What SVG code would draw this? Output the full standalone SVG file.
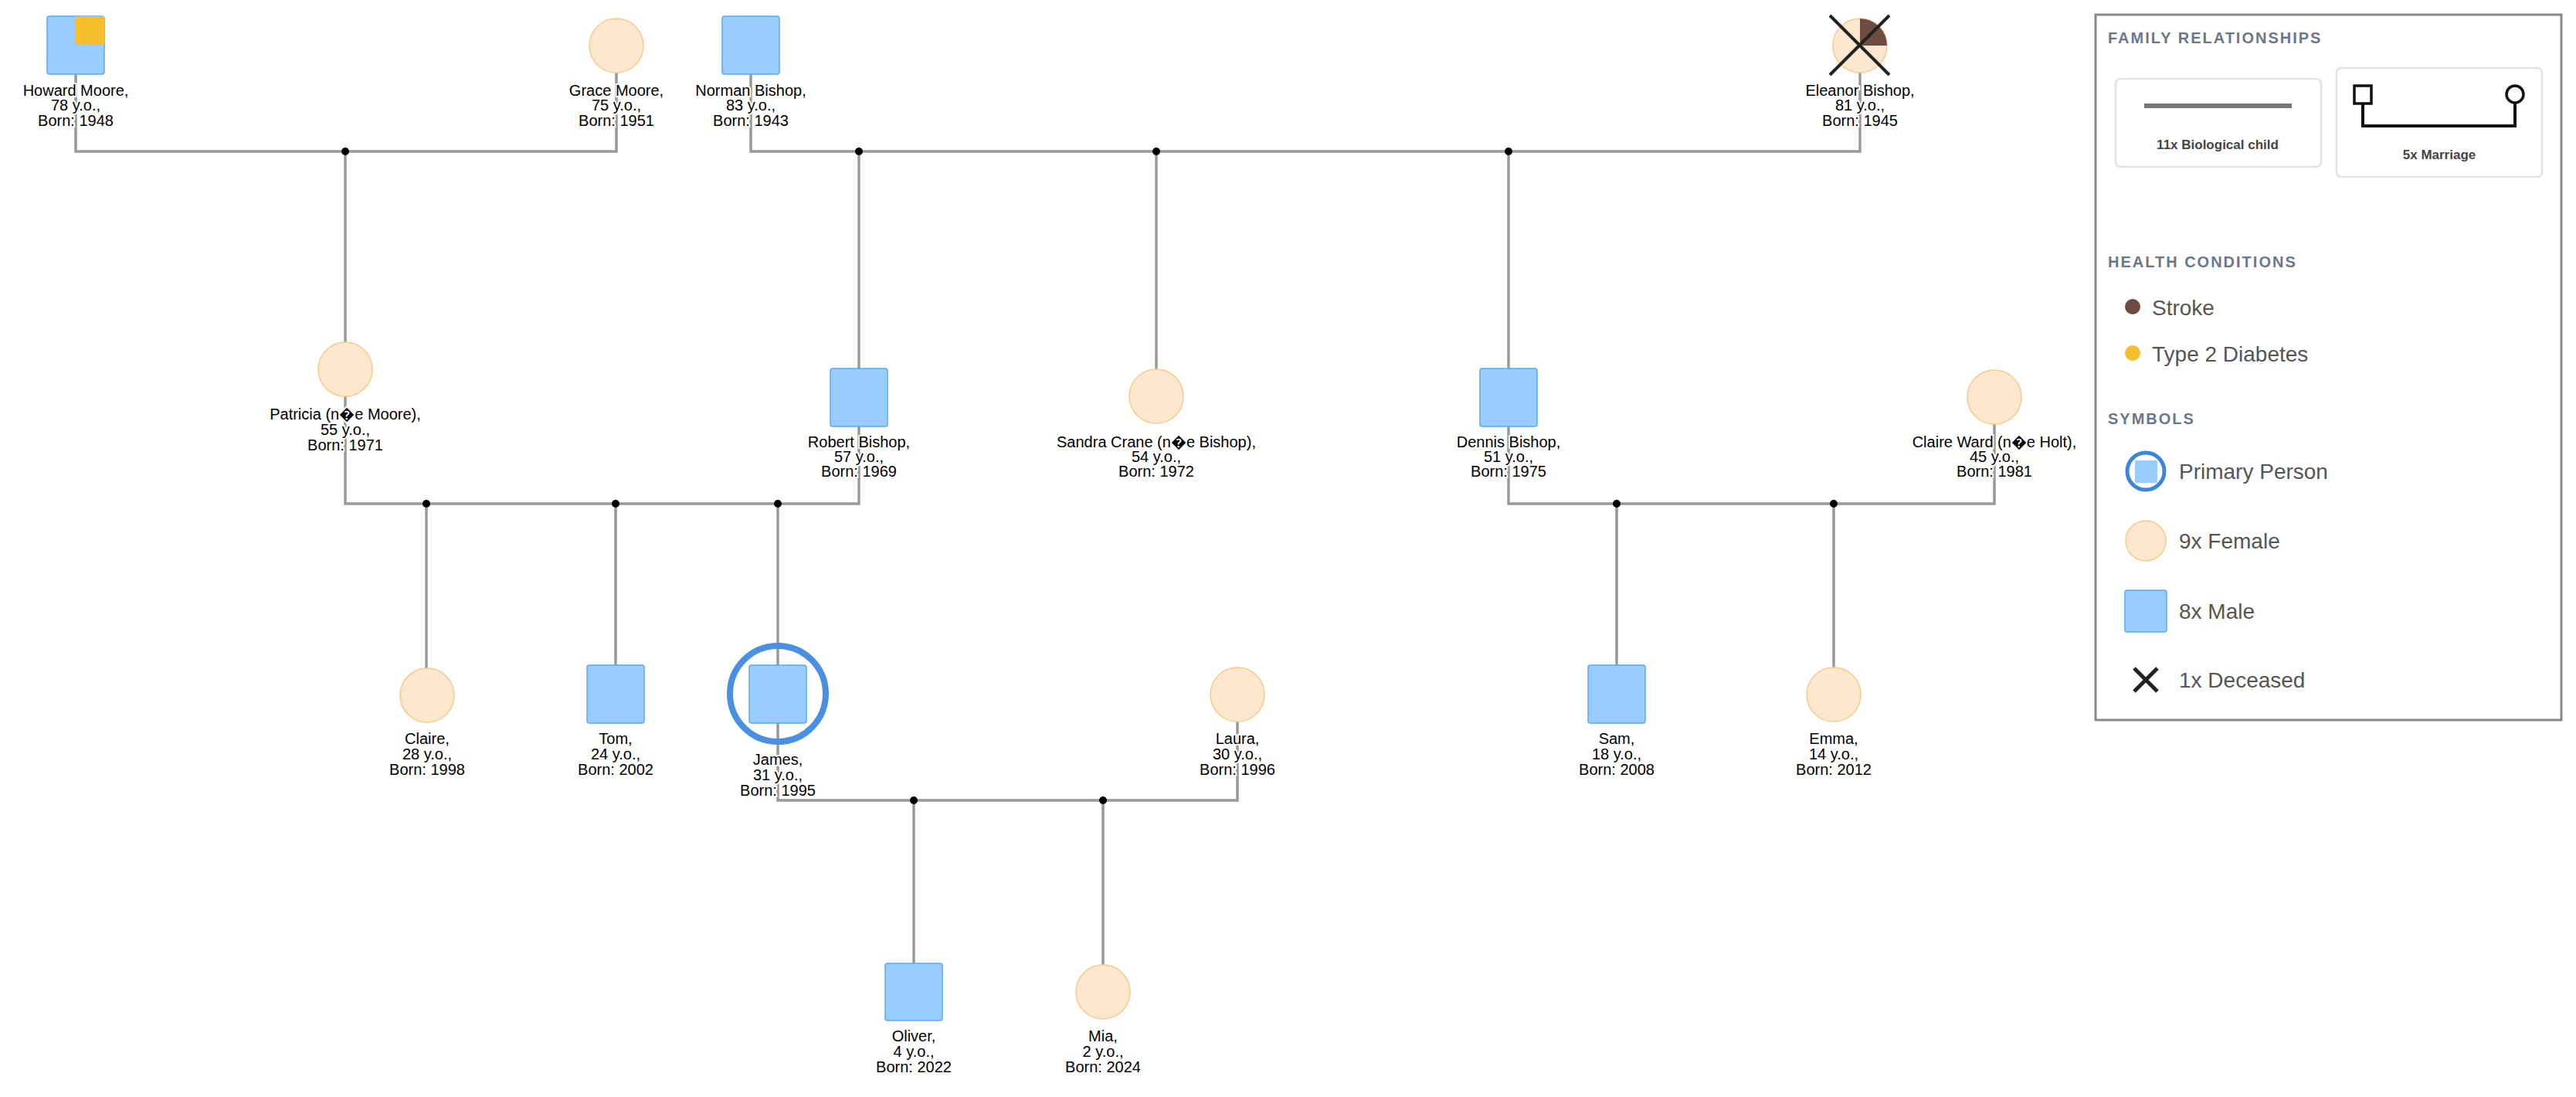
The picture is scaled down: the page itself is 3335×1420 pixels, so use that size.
<svg xmlns="http://www.w3.org/2000/svg" width="3335" height="1420" viewBox="0 0 3335 1420">
<style>
.m{fill:#99ccff;stroke:#5aa9f0;stroke-width:1.5}
.f{fill:#fde8cf;stroke:#f9c98a;stroke-width:1.5}
.lb{font-family:"Liberation Sans",Arial,sans-serif;font-size:20px;fill:#000;text-anchor:middle;stroke:#fff;stroke-width:4;paint-order:stroke}
.ln{fill:none;stroke:#999;stroke-width:3.5}
.dot{fill:#000}
.hd{font-family:"Liberation Sans",Arial,sans-serif;font-size:20px;font-weight:bold;fill:#6b7789;letter-spacing:2px}
.lt{font-family:"Liberation Sans",Arial,sans-serif;font-size:28px;fill:#555}
.bx{fill:#fff;stroke:#e2e2e2;stroke-width:2.5}
.bl{font-family:"Liberation Sans",Arial,sans-serif;font-size:17px;font-weight:bold;fill:#444;text-anchor:middle}
</style>
<rect width="3335" height="1420" fill="#fff"/>
<g id="connectors">
<path class="ln" d="M98 96V196H798V94"/>
<path class="ln" d="M972 96V196H2408V94"/>
<path class="ln" d="M447 513V652H1112V552"/>
<path class="ln" d="M1953 552V652H2582V549"/>
<path class="ln" d="M1007 936V1036H1602V934"/>
<path class="ln" d="M447 196V443M1112 196V477M1497 196V478M1953 196V477"/>
<path class="ln" d="M552 652V865M797 652V861M1007 652V861M2093 652V861M2374 652V864"/>
<path class="ln" d="M1183 1036V1247M1428 1036V1249"/>
<circle class="dot" cx="447" cy="196" r="5"/>
<circle class="dot" cx="1112" cy="196" r="5"/>
<circle class="dot" cx="1497" cy="196" r="5"/>
<circle class="dot" cx="1953" cy="196" r="5"/>
<circle class="dot" cx="552" cy="652" r="5"/>
<circle class="dot" cx="797" cy="652" r="5"/>
<circle class="dot" cx="1007" cy="652" r="5"/>
<circle class="dot" cx="2093" cy="652" r="5"/>
<circle class="dot" cx="2374" cy="652" r="5"/>
<circle class="dot" cx="1183" cy="1036" r="5"/>
<circle class="dot" cx="1428" cy="1036" r="5"/>
</g>
<g id="howard"><rect class="m" x="61" y="21" width="74" height="75" rx="3"/><rect x="97" y="21" width="38" height="37" fill="#f6be2a"/>
<text class="lb" x="98"><tspan x="98" y="124">Howard Moore,</tspan><tspan x="98" y="143">78 y.o.,</tspan><tspan x="98" y="163">Born: 1948</tspan></text></g>
<g id="grace"><circle class="f" cx="798" cy="59" r="35"/>
<text class="lb"><tspan x="798" y="124">Grace Moore,</tspan><tspan x="798" y="143">75 y.o.,</tspan><tspan x="798" y="163">Born: 1951</tspan></text></g>
<g id="norman"><rect class="m" x="935" y="21" width="74" height="75" rx="3"/>
<text class="lb"><tspan x="972" y="124">Norman Bishop,</tspan><tspan x="972" y="143">83 y.o.,</tspan><tspan x="972" y="163">Born: 1943</tspan></text></g>
<g id="eleanor"><circle class="f" cx="2408" cy="59" r="35"/><path d="M2408 59V24A35 35 0 0 1 2443 59Z" fill="#6d4c41"/>
<path d="M2369 20L2446 97M2446 20L2369 97" stroke="#222" stroke-width="4"/>
<text class="lb"><tspan x="2408" y="124">Eleanor Bishop,</tspan><tspan x="2408" y="143">81 y.o.,</tspan><tspan x="2408" y="163">Born: 1945</tspan></text></g>
<g id="patricia"><circle class="f" cx="447" cy="478" r="35"/>
<text class="lb"><tspan x="447" y="543">Patricia (n�e Moore),</tspan><tspan x="447" y="563">55 y.o.,</tspan><tspan x="447" y="583">Born: 1971</tspan></text></g>
<g id="robert"><rect class="m" x="1075" y="477" width="74" height="75" rx="3"/>
<text class="lb"><tspan x="1112" y="579">Robert Bishop,</tspan><tspan x="1112" y="598">57 y.o.,</tspan><tspan x="1112" y="617">Born: 1969</tspan></text></g>
<g id="sandra"><circle class="f" cx="1497" cy="513" r="35"/>
<text class="lb"><tspan x="1497" y="579">Sandra Crane (n�e Bishop),</tspan><tspan x="1497" y="598">54 y.o.,</tspan><tspan x="1497" y="617">Born: 1972</tspan></text></g>
<g id="dennis"><rect class="m" x="1916" y="477" width="74" height="75" rx="3"/>
<text class="lb"><tspan x="1953" y="579">Dennis Bishop,</tspan><tspan x="1953" y="598">51 y.o.,</tspan><tspan x="1953" y="617">Born: 1975</tspan></text></g>
<g id="claireward"><circle class="f" cx="2582" cy="514" r="35"/>
<text class="lb"><tspan x="2582" y="579">Claire Ward (n�e Holt),</tspan><tspan x="2582" y="598">45 y.o.,</tspan><tspan x="2582" y="617">Born: 1981</tspan></text></g>
<g id="claire"><circle class="f" cx="553" cy="900" r="35"/>
<text class="lb"><tspan x="553" y="963">Claire,</tspan><tspan x="553" y="983">28 y.o.,</tspan><tspan x="553" y="1003">Born: 1998</tspan></text></g>
<g id="tom"><rect class="m" x="760" y="861" width="74" height="75" rx="3"/>
<text class="lb"><tspan x="797" y="963">Tom,</tspan><tspan x="797" y="983">24 y.o.,</tspan><tspan x="797" y="1003">Born: 2002</tspan></text></g>
<g id="james"><circle cx="1007" cy="898" r="62" fill="none" stroke="#4a90e2" stroke-width="8"/><rect class="m" x="970" y="861" width="74" height="75" rx="3"/>
<text class="lb"><tspan x="1007" y="990">James,</tspan><tspan x="1007" y="1010">31 y.o.,</tspan><tspan x="1007" y="1030">Born: 1995</tspan></text></g>
<g id="laura"><circle class="f" cx="1602" cy="899" r="35"/>
<text class="lb"><tspan x="1602" y="963">Laura,</tspan><tspan x="1602" y="983">30 y.o.,</tspan><tspan x="1602" y="1003">Born: 1996</tspan></text></g>
<g id="sam"><rect class="m" x="2056" y="861" width="74" height="75" rx="3"/>
<text class="lb"><tspan x="2093" y="963">Sam,</tspan><tspan x="2093" y="983">18 y.o.,</tspan><tspan x="2093" y="1003">Born: 2008</tspan></text></g>
<g id="emma"><circle class="f" cx="2374" cy="899" r="35"/>
<text class="lb"><tspan x="2374" y="963">Emma,</tspan><tspan x="2374" y="983">14 y.o.,</tspan><tspan x="2374" y="1003">Born: 2012</tspan></text></g>
<g id="oliver"><rect class="m" x="1146" y="1247" width="74" height="74" rx="3"/>
<text class="lb"><tspan x="1183" y="1348">Oliver,</tspan><tspan x="1183" y="1368">4 y.o.,</tspan><tspan x="1183" y="1388">Born: 2022</tspan></text></g>
<g id="mia"><circle class="f" cx="1428" cy="1284" r="35"/>
<text class="lb"><tspan x="1428" y="1348">Mia,</tspan><tspan x="1428" y="1368">2 y.o.,</tspan><tspan x="1428" y="1388">Born: 2024</tspan></text></g>
<g id="legend">
<rect x="2713" y="19" width="603" height="913" fill="#fff" stroke="#888" stroke-width="3"/>
<text class="hd" x="2729" y="56">FAMILY RELATIONSHIPS</text>
<rect class="bx" x="2739" y="102" width="266" height="114" rx="6"/>
<line x1="2776" y1="137" x2="2967" y2="137" stroke="#777" stroke-width="6"/>
<text class="bl" x="2871" y="193">11x Biological child</text>
<rect class="bx" x="3025" y="88" width="266" height="141" rx="6"/>
<path d="M3059 134V163H3256V133" fill="none" stroke="#111" stroke-width="4"/>
<rect x="3048" y="111" width="22" height="23" fill="#fff" stroke="#111" stroke-width="3.5"/>
<circle cx="3256" cy="122" r="11" fill="#fff" stroke="#111" stroke-width="3.5"/>
<text class="bl" x="3158" y="206">5x Marriage</text>
<text class="hd" x="2729" y="346">HEALTH CONDITIONS</text>
<circle cx="2761" cy="397" r="10" fill="#6d4c41"/>
<text class="lt" x="2786" y="408">Stroke</text>
<circle cx="2761" cy="457" r="10" fill="#f6be2a"/>
<text class="lt" x="2786" y="468">Type 2 Diabetes</text>
<text class="hd" x="2729" y="549">SYMBOLS</text>
<circle cx="2778" cy="610" r="24" fill="#fff" stroke="#3a86d8" stroke-width="5"/>
<rect x="2764" y="596" width="29" height="29" fill="#99ccff" rx="2"/>
<text class="lt" x="2821" y="620">Primary Person</text>
<circle class="f" cx="2778" cy="700" r="26"/>
<text class="lt" x="2821" y="710">9x Female</text>
<rect class="m" x="2751" y="764" width="54" height="54" rx="3"/>
<text class="lt" x="2821" y="801">8x Male</text>
<path d="M2763 865L2793 895M2793 865L2763 895" stroke="#222" stroke-width="5"/>
<text class="lt" x="2821" y="890">1x Deceased</text>
</g>
</svg>
